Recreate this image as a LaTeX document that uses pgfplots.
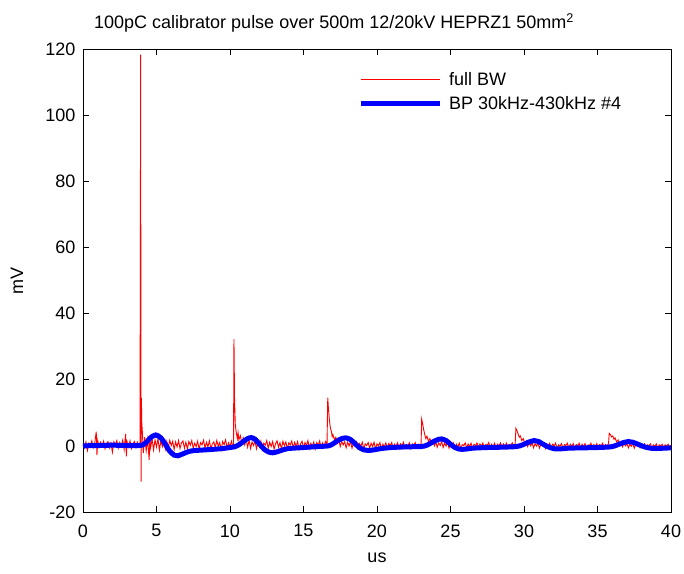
\documentclass[border=0pt]{standalone}
\usepackage{pgfplots}
\pgfplotsset{compat=1.18}
\usepackage{fontspec}
\setmainfont{Liberation Sans}
\newcommand\ff{\fontsize{18}{21}\selectfont}
\begin{document}
\begin{tikzpicture}
\path[use as bounding box] (-83pt,-61pt) rectangle (601pt,512pt);
\begin{axis}[
 at={(0pt,0pt)}, anchor=south west,
 scale only axis, width=588pt, height=463pt,
 xmin=0, xmax=40, ymin=-20, ymax=120,
 xtick={0,5,...,40}, ytick={-20,0,...,120},
 tick align=inside, major tick length=6pt,
 tick style={black, line width=0.6pt},
 axis line style={line width=0.6pt},
 ticklabel style={font=\ff},
 /pgf/number format/assume math mode=true,
 xticklabel style={yshift=-9pt},
 yticklabel style={xshift=-4pt},
 xlabel={us}, ylabel={mV},
 xlabel style={font=\ff, at={(axis description cs:0.5,0)}, anchor=base, yshift=-50pt, inner sep=0pt},
 ylabel style={font=\ff, at={(axis description cs:-0.102,0.5)}, anchor=base, inner sep=0pt},
 title={100pC calibrator pulse over 500m 12/20kV HEPRZ1 50mm\textsuperscript{2}},
 title style={font=\ff, at={(axis description cs:0.0187,1)}, anchor=base west, yshift=14pt, inner sep=0pt},
 legend style={at={(axis description cs:0.4677,0.955)}, anchor=north west, draw=none, fill=none, font=\ff, inner sep=0pt, row sep=6pt, column sep=5pt},
 legend cell align=left,
 legend image code/.code={\draw[#1] (0pt,0pt) -- (79pt,0pt);},
]
\addplot[red, line width=0.9pt] coordinates {
(0.0,0.4)(0.1,-0.6)(0.2,1.2)(0.3,-1.4)(0.4,0.8)(0.5,0.1)(0.6,1.5)(0.7,-0.5)(0.8,0.9)(0.9,4.3)
(0.95,-2.8)(1.0,1.6)(1.1,-0.4)(1.2,1.1)(1.3,0.0)(1.4,1.4)(1.5,-0.9)(1.6,0.7)(1.7,1.3)(1.8,-0.6)
(1.9,0.9)(2.0,-1.9)(2.1,1.2)(2.2,0.3)(2.3,1.6)(2.4,-0.7)(2.5,1.0)(2.6,-0.2)(2.7,1.7)(2.8,-1.1)
(2.9,3.6)(2.95,-3.2)(3.0,1.2)(3.1,-0.3)(3.2,1.5)(3.3,-0.8)(3.4,0.6)(3.5,1.3)(3.6,-0.5)(3.7,1.1)
(3.8,0.2)(3.88,0.9)(3.92,118.3)(3.95,-10.8)(3.97,14.5)(4.0,7.0)(4.05,3.2)(4.1,-2.2)(4.2,2.6)(4.3,-1.5)
(4.4,1.9)(4.5,-4.2)(4.55,2.4)(4.6,-0.6)(4.7,2.1)(4.8,-1.2)(4.9,1.8)(5.0,-0.4)(5.1,2.2)(5.2,-1.3)
(5.3,1.6)(5.4,-0.2)(5.5,1.9)(5.6,-1.0)(5.7,1.3)(5.8,-0.6)(5.9,1.7)(6.0,0.1)(6.1,1.4)(6.2,-1.1)
(6.3,1.2)(6.4,-0.3)(6.5,1.6)(6.6,-0.8)(6.7,0.9)(6.8,1.5)(6.9,-0.7)(7.0,1.1)(7.1,-0.9)(7.2,1.3)
(7.3,0.2)(7.4,1.6)(7.5,-0.7)(7.6,0.8)(7.7,-0.2)(7.8,1.4)(7.9,-1.0)(8.0,1.0)(8.1,0.3)(8.2,1.7)
(8.3,-0.6)(8.4,1.1)(8.5,-0.3)(8.6,1.5)(8.7,-0.9)(8.8,0.6)(8.9,1.2)(9.0,-0.5)(9.1,1.6)(9.2,-0.1)
(9.3,1.0)(9.4,-1.2)(9.5,1.3)(9.6,0.4)(9.7,1.8)(9.8,-0.6)(9.9,0.9)(10.0,-0.2)(10.1,1.4)(10.2,-0.5)
(10.24,0.6)(10.27,32.3)(10.31,14.0)(10.36,6.5)(10.42,4.2)(10.5,2.2)(10.55,4.0)(10.6,1.8)(10.7,3.1)(10.8,0.9)
(10.9,2.4)(11.0,0.3)(11.1,1.9)(11.2,-0.4)(11.3,1.7)(11.4,-0.8)(11.5,1.2)(11.6,0.1)(11.7,1.5)(11.8,-0.9)
(11.9,1.0)(12.0,-0.3)(12.1,1.4)(12.2,-1.1)(12.3,0.8)(12.4,0.2)(12.5,1.6)(12.6,-0.7)(12.7,1.1)(12.8,-0.2)
(12.9,1.3)(13.0,-1.0)(13.1,0.7)(13.2,1.5)(13.3,-0.4)(13.4,1.0)(13.5,-0.8)(13.6,1.4)(13.7,0.0)(13.8,1.2)
(13.9,-0.9)(14.0,0.9)(14.1,0.3)(14.2,1.5)(14.3,-0.6)(14.4,1.1)(14.5,-0.2)(14.6,1.3)(14.7,-1.0)(14.8,0.6)
(14.9,1.4)(15.0,-0.5)(15.1,1.0)(15.2,0.1)(15.3,1.6)(15.4,-0.8)(15.5,0.8)(15.6,-0.1)(15.7,1.2)(15.8,-0.9)
(15.9,1.0)(16.0,0.2)(16.1,1.5)(16.2,-0.6)(16.3,0.9)(16.4,-0.3)(16.5,1.3)(16.6,0.4)(16.65,14.6)(16.7,11.0)
(16.76,8.0)(16.82,5.6)(16.9,4.3)(16.95,2.8)(17.0,3.4)(17.1,1.9)(17.2,2.6)(17.3,0.8)(17.4,1.9)(17.5,-0.2)
(17.6,1.4)(17.7,0.3)(17.8,1.2)(17.9,-0.6)(18.0,1.1)(18.1,0.0)(18.2,1.3)(18.3,-0.7)(18.4,0.9)(18.5,0.2)
(18.6,1.2)(18.7,-0.8)(18.8,0.7)(18.9,-0.1)(19.0,1.1)(19.1,-0.9)(19.2,0.6)(19.3,0.1)(19.4,1.0)(19.5,-0.7)
(19.6,0.8)(19.7,-0.2)(19.8,1.1)(19.9,-0.8)(20.0,0.6)(20.1,0.0)(20.2,1.0)(20.3,-0.9)(20.4,0.5)(20.5,-0.3)
(20.6,0.9)(20.7,-0.7)(20.8,0.7)(20.9,0.1)(21.0,1.0)(21.1,-0.8)(21.2,0.5)(21.3,-0.2)(21.4,0.9)(21.5,-0.9)
(21.6,0.6)(21.7,0.0)(21.8,1.1)(21.9,-0.7)(22.0,0.4)(22.1,-0.1)(22.2,0.9)(22.3,-0.8)(22.4,0.6)(22.5,0.1)
(22.6,1.0)(22.7,-0.6)(22.8,0.5)(22.9,-0.2)(23.0,0.8)(23.04,8.1)(23.1,6.8)(23.17,5.0)(23.25,3.4)(23.32,2.2)
(23.4,2.9)(23.5,1.4)(23.6,2.2)(23.7,0.6)(23.8,1.6)(23.9,0.0)(24.0,1.1)(24.1,-0.4)(24.2,0.9)(24.3,0.1)
(24.4,1.3)(24.5,-0.5)(24.6,0.9)(24.7,-0.1)(24.8,1.2)(24.9,-0.7)(25.0,0.7)(25.1,0.0)(25.2,0.9)(25.3,-0.8)
(25.4,0.5)(25.5,-0.3)(25.6,0.8)(25.7,-0.9)(25.8,0.4)(25.9,0.1)(26.0,0.9)(26.1,-0.7)(26.2,0.6)(26.3,-0.2)
(26.4,0.8)(26.5,-0.8)(26.6,0.5)(26.7,0.0)(26.8,0.9)(26.9,-0.6)(27.0,0.6)(27.1,-0.1)(27.2,0.9)(27.3,-0.8)
(27.4,0.4)(27.5,0.2)(27.6,1.0)(27.7,-0.7)(27.8,0.5)(27.9,-0.3)(28.0,0.8)(28.1,-0.9)(28.2,0.5)(28.3,0.0)
(28.4,0.9)(28.5,-0.6)(28.6,0.6)(28.7,-0.2)(28.8,0.8)(28.9,-0.8)(29.0,0.4)(29.1,0.1)(29.2,0.9)(29.3,-0.6)
(29.4,0.7)(29.45,5.3)(29.52,4.6)(29.6,3.6)(29.68,2.6)(29.75,3.0)(29.85,1.6)(29.95,2.2)(30.05,0.7)(30.15,1.5)
(30.25,-0.2)(30.35,1.0)(30.45,0.0)(30.55,0.9)(30.65,-0.6)(30.75,0.7)(30.85,-0.1)(30.95,0.9)(31.05,-0.7)(31.15,0.5)
(31.25,0.1)(31.35,0.8)(31.45,-0.8)(31.55,0.4)(31.65,-0.2)(31.75,0.8)(31.85,-0.7)(31.95,0.5)(32.05,0.0)(32.15,0.8)
(32.25,-0.8)(32.35,0.3)(32.45,-0.1)(32.55,0.7)(32.65,-0.7)(32.75,0.4)(32.85,0.1)(32.95,0.8)(33.05,-0.6)(33.15,0.5)
(33.25,-0.2)(33.35,0.7)(33.45,-0.8)(33.55,0.4)(33.65,0.0)(33.75,0.8)(33.85,-0.6)(33.95,0.5)(34.05,-0.2)(34.15,0.7)
(34.25,-0.7)(34.35,0.3)(34.45,0.1)(34.55,0.8)(34.65,-0.6)(34.75,0.4)(34.85,-0.2)(34.95,0.7)(35.05,-0.7)(35.15,0.4)
(35.25,0.0)(35.35,0.8)(35.45,-0.6)(35.55,0.4)(35.65,-0.1)(35.75,0.7)(35.8,3.8)(35.88,3.4)(35.96,2.7)(36.04,3.0)
(36.12,2.0)(36.2,2.4)(36.3,1.2)(36.4,1.8)(36.5,0.3)(36.6,1.1)(36.7,-0.3)(36.8,0.8)(36.9,0.0)(37.0,0.7)
(37.1,-0.6)(37.2,0.5)(37.3,-0.1)(37.4,0.7)(37.5,-0.7)(37.6,0.4)(37.7,0.1)(37.8,0.6)(37.9,-0.6)(38.0,0.4)
(38.1,-0.2)(38.2,0.6)(38.3,-0.7)(38.4,0.3)(38.5,0.0)(38.6,0.6)(38.7,-0.6)(38.8,0.3)(38.9,-0.2)(39.0,0.6)
(39.1,-0.7)(39.2,0.3)(39.3,0.0)(39.4,0.5)(39.5,-0.6)(39.6,0.3)(39.7,-0.1)(39.8,0.5)(39.9,-0.6)(40.0,0.2)
};
\addlegendentry{full BW}
\addplot[blue, line width=5pt, smooth] coordinates {
(0,0.0)(1,0.1)(2,0.2)(3,0.1)(3.8,0.1)(4.0,0.2)(4.3,1.0)(4.6,2.5)(4.95,3.3)(5.3,2.4)
(5.6,0.5)(5.9,-1.6)(6.2,-2.8)(6.45,-3.0)(6.8,-2.4)(7.2,-1.7)(7.6,-1.4)(8.0,-1.3)(9.0,-1.0)(9.5,-0.8)
(10.0,-0.5)(10.3,-0.3)(10.6,0.3)(10.9,1.3)(11.2,2.2)(11.45,2.5)(11.7,2.0)(12.0,0.6)(12.3,-0.9)(12.6,-1.8)
(12.9,-2.1)(13.2,-1.8)(13.6,-1.2)(14.0,-0.8)(15.0,-0.5)(16.0,-0.2)(16.7,0.0)(17.0,0.6)(17.3,1.5)(17.6,2.2)
(17.9,2.4)(18.2,1.9)(18.5,0.7)(18.8,-0.5)(19.1,-1.2)(19.4,-1.4)(19.8,-1.2)(20.3,-0.8)(21.0,-0.5)(22.0,-0.3)
(23.0,-0.2)(23.4,0.2)(23.8,1.2)(24.2,2.0)(24.4,2.1)(24.7,1.6)(25.0,0.5)(25.3,-0.5)(25.6,-1.0)(26.0,-1.0)
(26.5,-0.7)(27.5,-0.5)(28.5,-0.4)(29.5,-0.2)(29.9,0.3)(30.3,1.1)(30.7,1.6)(31.0,1.3)(31.3,0.5)(31.7,-0.4)
(32.1,-0.9)(32.5,-0.9)(33.0,-0.7)(34.0,-0.6)(35.0,-0.5)(35.9,-0.3)(36.3,0.2)(36.7,0.9)(37.1,1.3)(37.4,1.1)
(37.8,0.4)(38.2,-0.3)(38.6,-0.7)(39.0,-0.8)(39.5,-0.7)(40.0,-0.6)
};
\addlegendentry{BP 30kHz-430kHz \#4}
\end{axis}
\end{tikzpicture}
\end{document}
